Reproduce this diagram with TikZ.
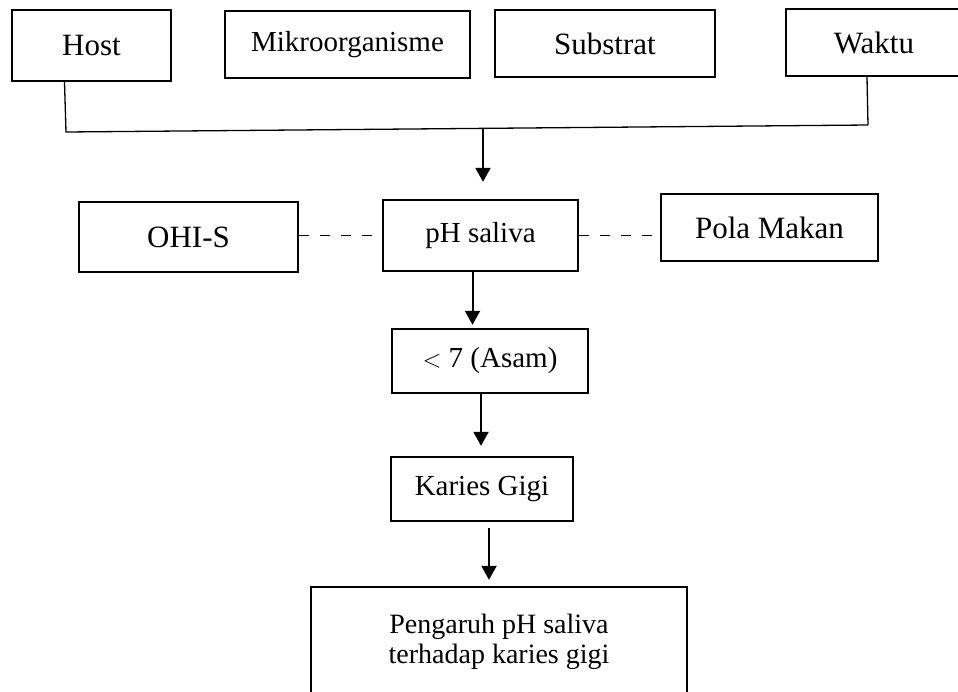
\documentclass[tikz,border=0pt]{standalone}
\usepackage{fontspec}
\setmainfont{Liberation Serif}
\usetikzlibrary{arrows.meta,calc}

\begin{document}
\begin{tikzpicture}[%
x=1pt, y=-1pt,
kotak/.style={draw, line width=2.4pt, inner sep=0pt, align=center},
besar/.style={font=\fontsize{31}{36}\selectfont},
kecil/.style={font=\fontsize{29}{34}\selectfont},
panah/.style={line width=2pt, -{Triangle[length=14pt,width=15pt]}},
garis/.style={line width=1.3pt},
putus/.style={line width=1.6pt, dash pattern=on 10pt off 11pt},
]
\clip (0,0) rectangle (958,691);
%% faktor;
\node [kotak, besar, minimum width=159pt, minimum height=71pt] (host) at (91.5,45.5) {Host};
\node [kotak, kecil, minimum width=245pt, minimum height=67pt] (mikro) at (347.5,44.5) {Mikroorganisme};
\node [kotak, besar, minimum width=220pt, minimum height=67pt] (substrat) at (605,43.5) {Substrat};
\node [kotak, besar, minimum width=176pt, minimum height=67pt] (waktu) at (874,42.5) {Waktu};
%% tengah;
\node [kotak, besar, minimum width=219pt, minimum height=70pt] (ohis) at (188.5,237) {OHI-S};
\node [kotak, kecil, minimum width=195pt, minimum height=71pt] (ph) at (480.5,235.5) {pH saliva};
\node [kotak, besar, minimum width=217pt, minimum height=67pt] (pola) at (769.5,227.5) {Pola Makan};
\node [kotak, kecil, minimum width=196pt, minimum height=64pt] (asam) at (490,361) {${<}$ 7 (Asam)};
\node [kotak, kecil, minimum width=182pt, minimum height=64pt] (karies) at (482,489) {Karies Gigi};
%% hasil;
\node [kotak, font=\fontsize{28}{30}\selectfont, minimum width=376pt, minimum height=110pt] (hasil) at (499,642) {Pengaruh pH saliva\\terhadap karies gigi};
%% garis;
\coordinate (kiri) at (66,132);
\coordinate (kanan) at (868,125);
\coordinate (tengah) at (483,128.5);
\draw [garis] ($(host.south)+(-27,0)$) -- (kiri) -- (kanan);
\draw [garis] ($(waktu.south)+(-7,0)$) -- (kanan);
\draw [panah, shorten >=17pt] (tengah) -- (tengah |- ph.north);
%% putus;
\draw [putus] (ohis.east |- ph.west) -- (ph.west);
\draw [putus] (ph.east) -- (ph.east -| pola.west);
%% panah;
\coordinate (a1) at ($(ph.south)+(-8,0)$);
\draw [panah, shorten >=3pt] (a1) -- (a1 |- asam.north);
\coordinate (a2) at ($(asam.south)+(-9,0)$);
\draw [panah, shorten >=10pt] (a2) -- (a2 |- karies.north);
\coordinate (a3) at ($(karies.south)+(7,6)$);
\draw [panah, shorten >=6pt] (a3) -- (a3 |- hasil.north);
\end{tikzpicture}
\end{document}
